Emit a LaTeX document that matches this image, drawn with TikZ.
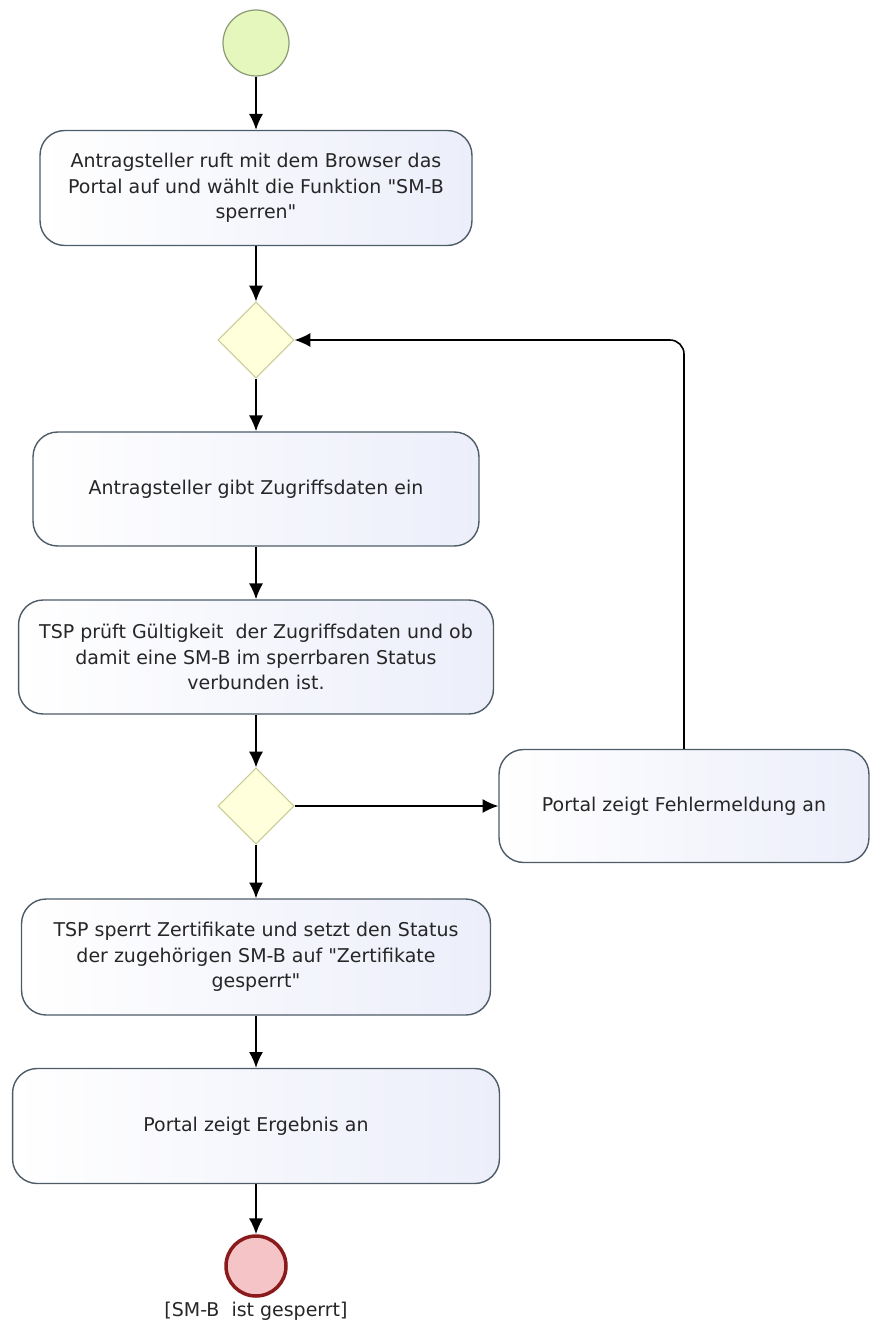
\documentclass[tikz,border=0pt]{standalone}
\usepackage{fontspec}
\setmainfont{DejaVu Sans}[Ligatures=TeXOff]
\usetikzlibrary{arrows.meta,shapes.geometric}

\definecolor{actline}{HTML}{4E5C68}
\definecolor{actfill}{HTML}{ECEEFA}
\definecolor{startfill}{HTML}{E6F7BE}
\definecolor{startline}{HTML}{8C9C78}
\definecolor{gatefill}{HTML}{FFFFDC}
\definecolor{gateline}{HTML}{CACA94}
\definecolor{endfill}{HTML}{F4C4C6}
\definecolor{endline}{HTML}{8A1A1C}

\tikzset{
    act/.style={draw=actline, rounded corners=14pt, left color=white, right color=actfill,
        align=center, font=\fontsize{10.8}{14.4}\selectfont, text=black!85, line width=0.8pt},
    gate/.style={diamond, draw=gateline, fill=gatefill, minimum width=1.52cm, minimum height=1.52cm,
        inner sep=0pt, line width=0.6pt},
    flow/.style={->, line width=0.9pt, >={Latex[length=9pt,width=8pt]}}
}

\begin{document}
\begin{tikzpicture}[x=0.02cm, y=-0.02cm]
            \useasboundingbox (0,0) rectangle (869,1327);

            \node[circle, draw=startline, fill=startfill, minimum size=1.32cm, line width=0.7pt] (s) at (256, 43) {};

            \node[act, minimum width=8.64cm, minimum height=2.3cm] (a1) at (256, 188)
                {Antragsteller ruft mit dem Browser das\\Portal auf und wählt die Funktion "SM-B\\sperren"};
            \node[gate] (g1) at (256, 340) {};
            \node[act, minimum width=8.92cm, minimum height=2.28cm] (a2) at (256, 489)
                {Antragsteller gibt Zugriffsdaten ein};
            \node[act, minimum width=9.5cm, minimum height=2.28cm] (a3) at (256, 657)
                {TSP prüft Gültigkeit\ \ der Zugriffsdaten und ob\\damit eine SM-B im sperrbaren Status\\verbunden ist.};
            \node[gate] (g2) at (256, 806) {};
            \node[act, minimum width=7.4cm, minimum height=2.26cm] (a4) at (684, 806)
                {Portal zeigt Fehlermeldung an};
            \node[act, minimum width=9.38cm, minimum height=2.32cm] (a5) at (256, 957)
                {TSP sperrt Zertifikate und setzt den Status\\der zugehörigen SM-B auf "Zertifikate\\gesperrt"};
            \node[act, minimum width=9.74cm, minimum height=2.3cm] (a6) at (256, 1126)
                {Portal zeigt Ergebnis an};

            \node[circle, draw=endline, fill=endfill, minimum size=1.2cm, line width=2pt] (e) at (256, 1266) {};
            \node[font=\fontsize{10.8}{12}\selectfont, text=black!85] (el) at (256, 1311) {[SM-B\ \ ist gesperrt]};

            \coordinate (k) at (a4.north |- g1.east);

            \draw[flow] (s) -- (a1);
            \draw[flow] (a1) -- (g1);
            \draw[flow] (g1) -- (a2);
            \draw[flow] (a2) -- (a3);
            \draw[flow] (a3) -- (g2);
            \draw[flow] (g2) -- (a4);
            \draw[flow, rounded corners=8pt] (a4.north) -- (k) -- (g1.east);
            \draw[flow] (g2) -- (a5);
            \draw[flow] (a5) -- (a6);
            \draw[flow] (a6) -- (e);
        \end{tikzpicture}
\end{document}
